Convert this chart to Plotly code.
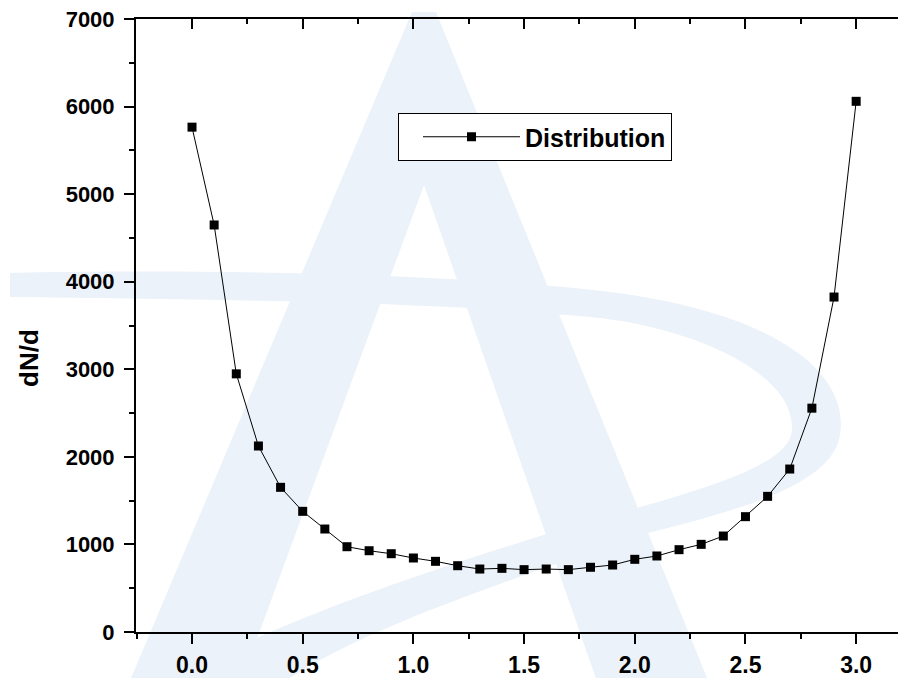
import plotly.graph_objects as go

# ---- data ----
theta = [0.0, 0.1, 0.2, 0.3, 0.4, 0.5, 0.6, 0.7, 0.8, 0.9, 1.0,
         1.1, 1.2, 1.3, 1.4, 1.5, 1.6, 1.7, 1.8, 1.9, 2.0,
         2.1, 2.2, 2.3, 2.4, 2.5, 2.6, 2.7, 2.8, 2.9, 3.0]
dNd = [5765, 4648, 2948, 2124, 1652, 1378, 1176, 974, 928, 894, 845,
       807, 757, 719, 727, 712, 719, 712, 739, 765, 830,
       868, 940, 1001, 1096, 1317, 1549, 1861, 2556, 3825, 6060]
series_name = "Distribution"
y_title = "dN/d"
x_ticks = [0.0, 0.5, 1.0, 1.5, 2.0, 2.5, 3.0]
x_ticktext = ["0.0", "0.5", "1.0", "1.5", "2.0", "2.5", "3.0"]
y_ticks = [0, 1000, 2000, 3000, 4000, 5000, 6000, 7000]

W, H = 898, 678
L, R, T, B = 136, 0, 19, 46
PW, PH = W - L - R, H - T - B

def px(x):
    return (x - L) / PW

def py(y):
    return (H - B - y) / PH

def path_from(cmds):
    out = []
    for c in cmds:
        op = c[0]
        pts = c[1:]
        out.append(op + " " + " ".join(f"{px(a):.4f},{py(b):.4f}" for a, b in pts))
    return " ".join(out)

WM = "rgb(235,242,249)"

shapes = []
# watermark "A"
shapes.append(dict(type="path", xref="paper", yref="paper", layer="below",
                   path=path_from([("M", (412, 12)), ("L", (436, 12)), ("L", (712, 690)),
                                   ("L", (600, 690)), ("L", (424, 185)), ("L", (238, 690)),
                                   ("L", (126, 690))]) + " Z",
                   fillcolor=WM, line=dict(width=0)))
# watermark swoosh (closed band)
shapes.append(dict(type="path", xref="paper", yref="paper", layer="below",
                   path=path_from([
                       ("M", (10, 273)),
                       ("C", (200, 269), (450, 273), (610, 292)),
                       ("C", (770, 312), (850, 370), (840, 435)),
                       ("C", (832, 485), (740, 510), (640, 535)),
                       ("C", (480, 590), (330, 640), (260, 700)),
                       ("L", (140, 700)),
                       ("C", (230, 640), (380, 585), (560, 530)),
                       ("C", (680, 495), (790, 470), (792, 430)),
                       ("C", (795, 375), (700, 330), (600, 318)),
                       ("C", (450, 302), (200, 299), (10, 297)),
                   ]) + " Z",
                   fillcolor=WM, line=dict(width=0)))

fig = go.Figure()
fig.add_trace(go.Scatter(
    x=theta, y=dNd, mode="lines+markers", name=series_name,
    line=dict(color="black", width=1),
    marker=dict(symbol="square", size=9, color="black"),
))
# carrier for the top (mirrored) axis, not shown
fig.add_trace(go.Scatter(
    x=theta, y=dNd, xaxis="x2", mode="markers", showlegend=False,
    hoverinfo="skip", marker=dict(opacity=0, size=1),
))

FAM = "Liberation Sans, Arial, sans-serif"
font = dict(family=FAM, size=22, color="black", weight="bold")
xr = [-0.253, 3.189]
tick_common = dict(tickwidth=2, tickcolor="black")

fig.update_layout(
    width=W, height=H,
    margin=dict(l=L, r=R, t=T, b=B, pad=0, autoexpand=False),
    paper_bgcolor="white", plot_bgcolor="rgba(0,0,0,0)",
    font=font,
    showlegend=True,
    legend=dict(x=px(398), y=py(113), xanchor="left", yanchor="top",
                bgcolor="white", bordercolor="black", borderwidth=1,
                font=dict(family=FAM, size=25, color="black", weight="bold"),
                indentation=19, itemwidth=97),
    xaxis=dict(range=xr, showgrid=False, zeroline=False, automargin=False,
               showline=True, linecolor="black", linewidth=2,
               ticks="outside", ticklen=10, **tick_common,
               tickvals=x_ticks, ticktext=x_ticktext, ticklabelstandoff=1,
               tickfont=dict(family=FAM, size=23, color="black", weight="bold"),
               minor=dict(ticks="outside", ticklen=5, dtick=0.25, tick0=0, **tick_common)),
    xaxis2=dict(range=xr, overlaying="x", side="top", anchor="y", showgrid=False, zeroline=False,
                automargin=False,
                showline=True, linecolor="black", linewidth=2,
                ticks="inside", ticklen=10, **tick_common,
                tickvals=x_ticks, showticklabels=False,
                minor=dict(ticks="inside", ticklen=5, dtick=0.25, tick0=0, **tick_common)),
    yaxis=dict(range=[0, 7000], showgrid=False, zeroline=False, automargin=False,
               showline=True, linecolor="black", linewidth=2,
               ticks="outside", ticklen=10, **tick_common,
               tickvals=y_ticks, ticklabelstandoff=5,
               minor=dict(ticks="outside", ticklen=5, dtick=500, tick0=0, **tick_common)),
    shapes=shapes,
    annotations=[dict(text=y_title, xref="paper", yref="paper", x=px(29), y=py(358),
                      xanchor="center", yanchor="middle",
                      showarrow=False, textangle=-90,
                      font=dict(family=FAM, size=26, color="black", weight="bold"))],
)

fig.write_html("out.html")
